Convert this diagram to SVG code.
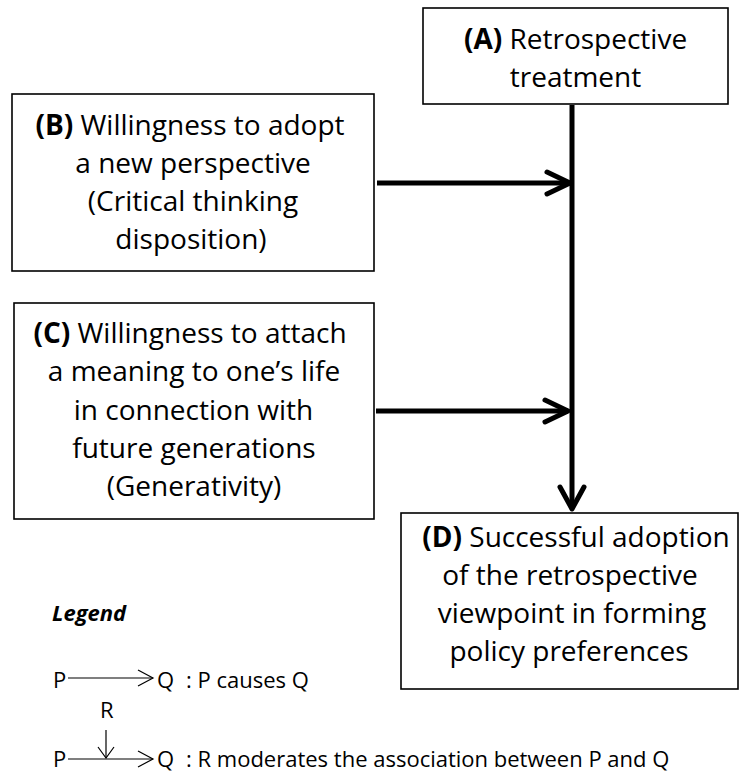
<svg xmlns="http://www.w3.org/2000/svg" width="739" height="774" viewBox="0 0 739 774">
<style>
.box{fill:#fff;stroke:#000;stroke-width:1.6}
.t{font-family:"Open Sans","Noto Sans",sans-serif;font-size:28px;fill:#000;text-anchor:middle}
.b{font-weight:700}
.thick{fill:none;stroke:#000;stroke-width:5;stroke-linecap:round;stroke-linejoin:round}
.thin{fill:none;stroke:#000;stroke-width:1.2}
.lg{font-family:"Open Sans","Noto Sans",sans-serif;font-size:22px;fill:#000}
</style>
<rect width="739" height="774" fill="#fff"/>
<g id="connectors">
<line class="thick" x1="572" y1="105" x2="572" y2="508" style="stroke-linecap:butt"/>
<polyline class="thick" points="560,487 572,509 584,487"/>
<line class="thick" x1="377" y1="183" x2="570" y2="183" style="stroke-linecap:butt"/>
<polyline class="thick" points="547,172 570,183 547,194"/>
<line class="thick" x1="376" y1="411" x2="568" y2="411" style="stroke-linecap:butt"/>
<polyline class="thick" points="545,400 568,411 545,422"/>
</g>
<g id="nodeA">
<rect class="box" x="423" y="8" width="305" height="96"/>
<text class="t" x="575.5" y="49"><tspan class="b">(A)</tspan> Retrospective</text>
<text class="t" x="575.5" y="87">treatment</text>
</g>
<g id="nodeB">
<rect class="box" x="12" y="94" width="362" height="177"/>
<text class="t" x="190" y="135"><tspan class="b">(B)</tspan> Willingness to adopt</text>
<text class="t" x="193" y="173">a new perspective</text>
<text class="t" x="193" y="211">(Critical thinking</text>
<text class="t" x="191" y="249">disposition)</text>
</g>
<g id="nodeC">
<rect class="box" x="14" y="303" width="360" height="216"/>
<text class="t" x="190" y="343"><tspan class="b">(C)</tspan> Willingness to attach</text>
<text class="t" x="194" y="381">a meaning to one’s life</text>
<text class="t" x="193.5" y="420">in connection with</text>
<text class="t" x="194" y="458">future generations</text>
<text class="t" x="194" y="496">(Generativity)</text>
</g>
<g id="nodeD">
<rect class="box" x="401" y="513" width="337" height="176"/>
<text class="t" x="576" y="547"><tspan class="b">(D)</tspan> Successful adoption</text>
<text class="t" x="570" y="585">of the retrospective</text>
<text class="t" x="572" y="623">viewpoint in forming</text>
<text class="t" x="569" y="661">policy preferences</text>
</g>
<g id="legend">
<text class="lg" x="52" y="621" font-weight="700" font-style="italic">Legend</text>
<text class="lg" x="53" y="688">P</text>
<line class="thin" x1="68" y1="678" x2="153" y2="678"/>
<polyline class="thin" points="138,670 153,678 138,686"/>
<text class="lg" x="157" y="688">Q</text>
<text class="lg" x="186" y="688">: P causes Q</text>
<text class="lg" x="100" y="718">R</text>
<line class="thin" x1="106" y1="730" x2="106" y2="758"/>
<polyline class="thin" points="98,747 106,758 114,747"/>
<text class="lg" x="53" y="767">P</text>
<line class="thin" x1="68" y1="759" x2="153" y2="759"/>
<polyline class="thin" points="138,751 153,759 138,767"/>
<text class="lg" x="157" y="767">Q</text>
<text class="lg" x="186" y="767">: R moderates the association between P and Q</text>
</g>
</svg>
